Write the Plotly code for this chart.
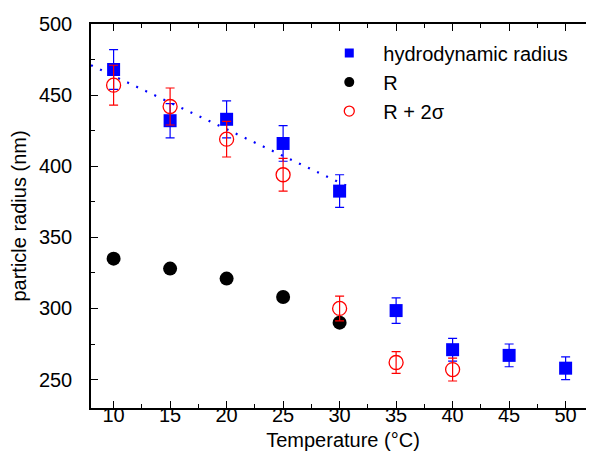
import plotly.graph_objects as go

temp_h = [10, 15, 20, 25, 30, 35, 40, 45, 50]
hydro = [468, 432, 433, 416, 382.5, 298.5, 271, 267, 258]
hydro_err = [14, 12, 13, 12.5, 11.5, 9, 8, 8, 8]

temp_r = [10, 15, 20, 25, 30]
r_vals = [335, 328, 321, 308, 290]

temp_s = [10, 15, 20, 25, 30, 35, 40]
r2s = [457, 442, 419, 394, 300, 262, 257]
r2s_err = [14, 13, 12.5, 11.5, 8.7, 7.7, 8]

fit_x = [8, 30.8]
fit_y = [471, 385.5]

font_family = "Liberation Sans, Arial, sans-serif"
FS = 20

fig = go.Figure()
fig.add_trace(go.Scatter(
    x=fit_x, y=fit_y, mode="lines", showlegend=False,
    line=dict(color="#0000ff", width=2.2, dash="2px,8px"),
))
fig.add_trace(go.Scatter(
    x=temp_h, y=hydro, mode="markers", showlegend=False,
    marker=dict(symbol="square", size=13, color="#0000ff"),
    error_y=dict(type="data", array=hydro_err, color="#0000ff", thickness=1.2, width=4.5),
))
fig.add_trace(go.Scatter(
    x=temp_r, y=r_vals, mode="markers", showlegend=False,
    marker=dict(symbol="circle", size=14, color="black"),
))
fig.add_trace(go.Scatter(
    x=temp_s, y=r2s, mode="markers", showlegend=False,
    marker=dict(symbol="circle-open", size=14, color="#ff0000", line=dict(width=1.3)),
    error_y=dict(type="data", array=r2s_err, color="#ff0000", thickness=1.2, width=4.5),
))

# legend entries (smaller symbols as in the reference)
fig.add_trace(go.Scatter(x=[None], y=[None], mode="markers", name="hydrodynamic radius",
                         marker=dict(symbol="square", size=9, color="#0000ff")))
fig.add_trace(go.Scatter(x=[None], y=[None], mode="markers", name="R",
                         marker=dict(symbol="circle", size=10, color="black")))
fig.add_trace(go.Scatter(x=[None], y=[None], mode="markers", name="R + 2σ",
                         marker=dict(symbol="circle-open", size=10, color="#ff0000", line=dict(width=1.3))))

axis_common = dict(
    showline=True, linecolor="black", linewidth=1.5, mirror="allticks",
    ticks="inside", ticklen=7, tickwidth=1.3, tickcolor="black",
    showgrid=False, zeroline=False,
    tickfont=dict(size=FS, color="black", family=font_family),
)

fig.update_xaxes(
    range=[8, 52.6], tickvals=[10, 15, 20, 25, 30, 35, 40, 45, 50],
    minor=dict(ticks="inside", ticklen=4, tickwidth=1.3, tickcolor="black", dtick=2.5, tick0=0),
    ticklabelstandoff=-12,
    title=dict(text="Temperature (°C)", font=dict(size=FS, color="black", family=font_family), standoff=8),
    **axis_common,
)
fig.update_yaxes(
    range=[230, 500], tickvals=[250, 300, 350, 400, 450, 500],
    minor=dict(ticks="inside", ticklen=4, tickwidth=1.3, tickcolor="black", dtick=25, tick0=0),
    ticklabelstandoff=13,
    title=dict(text="particle radius (nm)", font=dict(size=FS, color="black", family=font_family), standoff=12),
    **axis_common,
)

fig.update_layout(
    width=594, height=455,
    margin=dict(l=82, r=5, t=14, b=55),
    plot_bgcolor="white", paper_bgcolor="white",
    font=dict(family=font_family, color="black", size=FS),
    legend=dict(
        x=0.445, y=0.975, xanchor="left", yanchor="top",
        bgcolor="rgba(0,0,0,0)", font=dict(size=FS, family=font_family),
        itemwidth=58, tracegroupgap=0,
    ),
)

fig.write_html("out.html")
